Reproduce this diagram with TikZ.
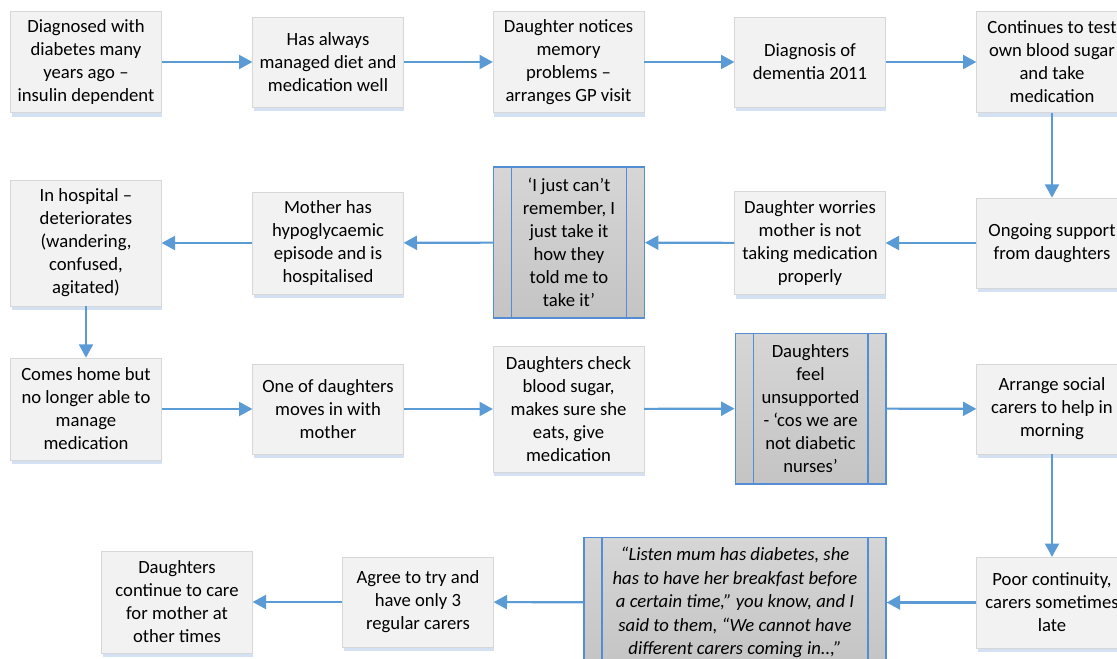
\documentclass[tikz,border=0pt]{standalone}
\usepackage{fontspec}
\setmainfont{Carlito}
\usetikzlibrary{arrows.meta,shadows}
\definecolor{boxfill}{RGB}{242,242,242}
\definecolor{boxborder}{RGB}{215,215,215}
\definecolor{shadowblue}{RGB}{212,225,243}
\definecolor{arrowblue}{RGB}{91,155,213}
\definecolor{predborder}{RGB}{84,141,212}
\definecolor{predtop}{RGB}{214,214,214}
\definecolor{predbot}{RGB}{196,196,196}
\tikzset{
  txt/.style={font=\fontsize{14}{17.25}\selectfont, align=center, inner sep=0pt},
  stepbox/.style={txt, draw=boxborder, line width=0.5pt, fill=boxfill,
    minimum width=113pt,
    general shadow={shadow xshift=0.75pt, shadow yshift=-3.2pt, fill=shadowblue}},
  predbox/.style={txt, draw=predborder, line width=1pt, top color=predtop, bottom color=predbot,
    minimum width=113pt},
  predline/.style={draw=predborder, line width=1pt},
  flow/.style={draw=arrowblue, line width=1.6pt, -{Triangle[length=10pt,width=10.5pt]}},
}
\begin{document}
\begin{tikzpicture}[x=0.75pt,y=-0.75pt]
\useasboundingbox (0,0) rectangle (1117,659);
\fill[white] (0,0) rectangle (1117,659);
\clip (0,0) rectangle (1117,659);
% row 1
\node[stepbox, minimum height=76pt] (A) at (86,62) {Diagnosed with\\diabetes many\\years ago –\\insulin dependent};
\node[stepbox, minimum height=67.5pt] (B) at (328,62) {Has always\\managed diet and\\medication well};
\node[stepbox, minimum height=76pt] (C) at (568.5,62) {Daughter notices\\memory\\problems –\\arranges GP visit};
\node[stepbox, minimum height=67.5pt] (D) at (810,62) {Diagnosis of\\dementia 2011};
\node[stepbox, minimum height=76pt] (E) at (1052,62) {Continues to test\\own blood sugar\\and take\\medication};
% row 2
\node[stepbox, minimum height=67.5pt] (F) at (1052,243) {Ongoing support\\from daughters};
\node[stepbox, minimum height=77pt] (G) at (810,243) {Daughter worries\\mother is not\\taking medication\\properly};
\node[predbox, minimum height=113pt] (H) at (569,242.5) {‘I just can’t\\remember, I\\just take it\\how they\\told me to\\take it’};
\node[stepbox, minimum height=76.5pt] (I) at (328,243) {Mother has\\hypoglycaemic\\episode and is\\hospitalised};
\node[stepbox, minimum height=94.5pt] (J) at (86,243) {In hospital –\\deteriorates\\(wandering,\\confused,\\agitated)};
% row 3
\node[stepbox, minimum height=76.5pt] (K) at (86,409) {Comes home but\\no longer able to\\manage\\medication};
\node[stepbox, minimum height=67.5pt] (L) at (328,409) {One of daughters\\moves in with\\mother};
\node[stepbox, minimum height=94.5pt] (M) at (568.5,409) {Daughters check\\blood sugar,\\makes sure she\\eats, give\\medication};
\node[predbox, minimum height=113pt] (N) at (810.5,408.5) {Daughters\\feel\\unsupported\\- ‘cos we are\\not diabetic\\nurses’};
\node[stepbox, minimum height=67.5pt] (O) at (1052,409) {Arrange social\\carers to help in\\morning};
% row 4
\node[stepbox, minimum height=68pt] (P) at (1052,602.5) {Poor continuity,\\carers sometimes\\late};
\node[predbox, minimum width=226.5pt, minimum height=97.5pt, font=\fontsize{14}{17.6}\selectfont\itshape] (Q) at (735,602.5) {“Listen mum has diabetes, she\\has to have her breakfast before\\a certain time,” you know, and I\\said to them, “We cannot have\\different carers coming in..,”};
\node[stepbox, minimum height=67.5pt] (R) at (418,602) {Agree to try and\\have only 3\\regular carers};
\node[stepbox, minimum height=76.5pt] (S) at (177,602) {Daughters\\continue to care\\for mother at\\other times};
% inner lines of predefined process boxes
\foreach \n in {H,N,Q}{
  \draw[predline] ([xshift=14pt]\n.north west) -- ([xshift=14pt]\n.south west);
  \draw[predline] ([xshift=-14pt]\n.north east) -- ([xshift=-14pt]\n.south east);
}
% connectors
\draw[flow] (A) -- (B);
\draw[flow] (B) -- (C);
\draw[flow] (C) -- (D);
\draw[flow] (D) -- (E);
\draw[flow] (E) -- (F);
\draw[flow] (F) -- (G);
\draw[flow] (G) -- (H);
\draw[flow] (H) -- (I);
\draw[flow] (I) -- (J);
\draw[flow] (J) -- (K);
\draw[flow] (K) -- (L);
\draw[flow] (L) -- (M);
\draw[flow] (M) -- (N);
\draw[flow] (N) -- (O);
\draw[flow] (O) -- (P);
\draw[flow] (P) -- (Q);
\draw[flow] (Q) -- (R);
\draw[flow] (R) -- (S);
\end{tikzpicture}
\end{document}
